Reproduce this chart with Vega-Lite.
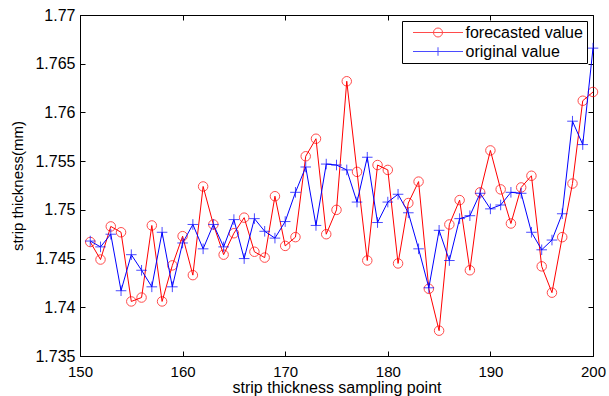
{
  "$schema": "https://vega.github.io/schema/vega-lite/v6.json",
  "width": 513,
  "height": 341,
  "autosize": {"type": "none"},
  "padding": {"left": 80, "top": 15, "right": 16, "bottom": 40},
  "background": "white",
  "config": {
    "font": "Liberation Sans",
    "view": {"stroke": "black", "strokeWidth": 1},
    "axis": {
      "labelFont": "Liberation Sans", "titleFont": "Liberation Sans",
      "labelColor": "black", "titleColor": "black", "tickColor": "black", "domainColor": "black",
      "grid": false, "tickSize": -5, "tickWidth": 1, "domainWidth": 1,
      "titleFontWeight": "normal", "labelFlush": false, "labelOverlap": false
    },
    "legend": {
      "orient": "top-right", "offset": 6, "padding": 3.5,
      "strokeColor": "black", "fillColor": "white", "cornerRadius": 0,
      "labelFont": "Liberation Sans", "labelFontSize": 16, "labelColor": "black",
      "labelOffset": 44, "symbolSize": 100, "symbolStrokeWidth": 1, "rowPadding": 3, "labelLimit": 300
    }
  },
  "data": {"values": [
    {"x":151,"s":"forecasted value","v":1.7467},{"x":152,"s":"forecasted value","v":1.7449},{"x":153,"s":"forecasted value","v":1.7483},{"x":154,"s":"forecasted value","v":1.7477},{"x":155,"s":"forecasted value","v":1.7406},
    {"x":156,"s":"forecasted value","v":1.7410},{"x":157,"s":"forecasted value","v":1.7484},{"x":158,"s":"forecasted value","v":1.7406},{"x":159,"s":"forecasted value","v":1.7443},{"x":160,"s":"forecasted value","v":1.7473},
    {"x":161,"s":"forecasted value","v":1.7433},{"x":162,"s":"forecasted value","v":1.7524},{"x":163,"s":"forecasted value","v":1.7485},{"x":164,"s":"forecasted value","v":1.7454},{"x":165,"s":"forecasted value","v":1.7476},
    {"x":166,"s":"forecasted value","v":1.7492},{"x":167,"s":"forecasted value","v":1.7457},{"x":168,"s":"forecasted value","v":1.7451},{"x":169,"s":"forecasted value","v":1.7514},{"x":170,"s":"forecasted value","v":1.7463},
    {"x":171,"s":"forecasted value","v":1.7472},{"x":172,"s":"forecasted value","v":1.7555},{"x":173,"s":"forecasted value","v":1.7573},{"x":174,"s":"forecasted value","v":1.7475},{"x":175,"s":"forecasted value","v":1.7500},
    {"x":176,"s":"forecasted value","v":1.7632},{"x":177,"s":"forecasted value","v":1.7539},{"x":178,"s":"forecasted value","v":1.7448},{"x":179,"s":"forecasted value","v":1.7546},{"x":180,"s":"forecasted value","v":1.7541},
    {"x":181,"s":"forecasted value","v":1.7445},{"x":182,"s":"forecasted value","v":1.7507},{"x":183,"s":"forecasted value","v":1.7529},{"x":184,"s":"forecasted value","v":1.7419},{"x":185,"s":"forecasted value","v":1.7376},
    {"x":186,"s":"forecasted value","v":1.7485},{"x":187,"s":"forecasted value","v":1.7510},{"x":188,"s":"forecasted value","v":1.7438},{"x":189,"s":"forecasted value","v":1.7518},{"x":190,"s":"forecasted value","v":1.7561},
    {"x":191,"s":"forecasted value","v":1.7521},{"x":192,"s":"forecasted value","v":1.7486},{"x":193,"s":"forecasted value","v":1.7523},{"x":194,"s":"forecasted value","v":1.7535},{"x":195,"s":"forecasted value","v":1.7442},
    {"x":196,"s":"forecasted value","v":1.7415},{"x":197,"s":"forecasted value","v":1.7472},{"x":198,"s":"forecasted value","v":1.7527},{"x":199,"s":"forecasted value","v":1.7612},{"x":200,"s":"forecasted value","v":1.7621},
    {"x":151,"s":"original value","v":1.7468},{"x":152,"s":"original value","v":1.7462},{"x":153,"s":"original value","v":1.7475},{"x":154,"s":"original value","v":1.7417},{"x":155,"s":"original value","v":1.7454},
    {"x":156,"s":"original value","v":1.7438},{"x":157,"s":"original value","v":1.7421},{"x":158,"s":"original value","v":1.7477},{"x":159,"s":"original value","v":1.7421},{"x":160,"s":"original value","v":1.7466},
    {"x":161,"s":"original value","v":1.7485},{"x":162,"s":"original value","v":1.7460},{"x":163,"s":"original value","v":1.7485},{"x":164,"s":"original value","v":1.7462},{"x":165,"s":"original value","v":1.7490},
    {"x":166,"s":"original value","v":1.7450},{"x":167,"s":"original value","v":1.7491},{"x":168,"s":"original value","v":1.7478},{"x":169,"s":"original value","v":1.7471},{"x":170,"s":"original value","v":1.7488},
    {"x":171,"s":"original value","v":1.7518},{"x":172,"s":"original value","v":1.7544},{"x":173,"s":"original value","v":1.7484},{"x":174,"s":"original value","v":1.7547},{"x":175,"s":"original value","v":1.7546},
    {"x":176,"s":"original value","v":1.7541},{"x":177,"s":"original value","v":1.7508},{"x":178,"s":"original value","v":1.7554},{"x":179,"s":"original value","v":1.7487},{"x":180,"s":"original value","v":1.7508},
    {"x":181,"s":"original value","v":1.7516},{"x":182,"s":"original value","v":1.7497},{"x":183,"s":"original value","v":1.7460},{"x":184,"s":"original value","v":1.7420},{"x":185,"s":"original value","v":1.7479},
    {"x":186,"s":"original value","v":1.7448},{"x":187,"s":"original value","v":1.7491},{"x":188,"s":"original value","v":1.7494},{"x":189,"s":"original value","v":1.7517},{"x":190,"s":"original value","v":1.7501},
    {"x":191,"s":"original value","v":1.7505},{"x":192,"s":"original value","v":1.7518},{"x":193,"s":"original value","v":1.7517},{"x":194,"s":"original value","v":1.7477},{"x":195,"s":"original value","v":1.7459},
    {"x":196,"s":"original value","v":1.7469},{"x":197,"s":"original value","v":1.7496},{"x":198,"s":"original value","v":1.7591},{"x":199,"s":"original value","v":1.7567},{"x":200,"s":"original value","v":1.7666}
  ]},
  "resolve": {"axis": {"x": "independent", "y": "independent"}},
  "layer": [
    {
      "transform": [{"filter": "datum.s === 'forecasted value'"}],
      "mark": {"type": "line", "color": "#ff0000", "strokeWidth": 1},
      "encoding": {
        "x": {"field": "x", "type": "quantitative", "scale": {"domain": [150, 200], "nice": false, "zero": false},
              "axis": {"orient": "bottom", "values": [150, 160, 170, 180, 190, 200], "labelFontSize": 15, "labelPadding": 13,
                       "title": "strip thickness sampling point", "titleFontSize": 16, "titlePadding": 0}},
        "y": {"field": "v", "type": "quantitative", "scale": {"domain": [1.735, 1.77], "nice": false, "zero": false},
              "axis": {"orient": "left", "values": [1.735, 1.74, 1.745, 1.75, 1.755, 1.76, 1.765, 1.77], "format": "~g",
                       "labelFontSize": 16, "labelPadding": 10, "title": "strip thickness(mm)", "titleFontSize": 15, "titlePadding": 9}}
      }
    },
    {
      "transform": [{"filter": "datum.s === 'forecasted value'"}],
      "mark": {"type": "point", "filled": false, "strokeWidth": 1, "size": 90, "shape": "circle"},
      "encoding": {
        "x": {"field": "x", "type": "quantitative",
              "axis": {"orient": "top", "values": [150, 160, 170, 180, 190, 200], "labels": false, "title": null, "domain": false}},
        "y": {"field": "v", "type": "quantitative",
              "axis": {"orient": "right", "values": [1.735, 1.74, 1.745, 1.75, 1.755, 1.76, 1.765, 1.77], "labels": false, "title": null, "domain": false}},
        "color": {"field": "s", "type": "nominal",
                  "scale": {"domain": ["forecasted value", "original value"], "range": ["#ff0000", "#0000ff"]},
                  "legend": {"title": null,
                    "labelExpr": "datum.label + ' '",
                    "symbolType": {"expr": "datum.value === 'forecasted value' ? 'M-2.4,0M-0.1,0H9.9M5.8,0A0.9,0.9 0 1 1 4,0A0.9,0.9 0 1 1 5.8,0' : 'M-2.4,0M-0.1,0H9.9M4.9,-0.85V0.85'"},
                    "symbolFillColor": "transparent"}}
      }
    },
    {
      "transform": [{"filter": "datum.s === 'original value'"}],
      "mark": {"type": "line", "color": "#0000ff", "strokeWidth": 1},
      "encoding": {
        "x": {"field": "x", "type": "quantitative", "axis": null},
        "y": {"field": "v", "type": "quantitative", "axis": null}
      }
    },
    {
      "transform": [{"filter": "datum.s === 'original value'"}],
      "mark": {"type": "point", "filled": false, "strokeWidth": 1, "size": 112, "shape": "M-1,0H1M0,-1V1"},
      "encoding": {
        "x": {"field": "x", "type": "quantitative", "axis": null},
        "y": {"field": "v", "type": "quantitative", "axis": null},
        "color": {"field": "s", "type": "nominal"}
      }
    }
  ]
}
